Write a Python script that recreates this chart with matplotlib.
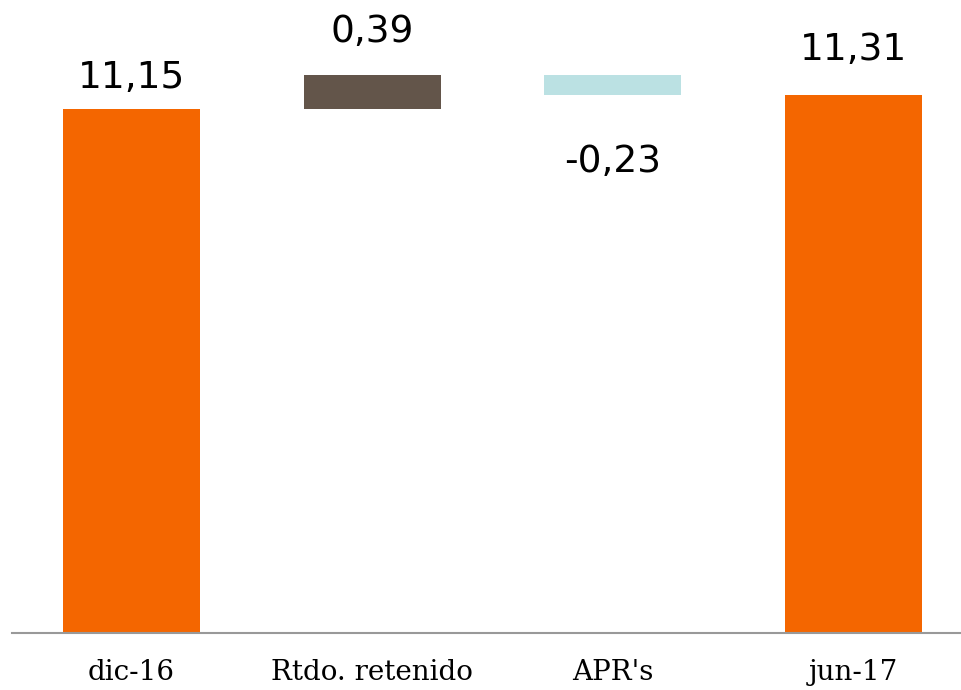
import matplotlib.pyplot as plt

# Datos del gráfico (cascada)
categorias = ["dic-16", "Rtdo. retenido", "APR's", "jun-17"]
variaciones = [11.15, 0.39, -0.23, 11.31]
es_total = [True, False, False, True]
etiquetas = ["11,15", "0,39", "-0,23", "11,31"]

colores = ["#F46600", "#63554A", "#BBE1E3", "#F46600"]
desplaz = [9, 17.5, -35.5, 19]  # separación de la etiqueta (pt)

fig = plt.figure(figsize=(9.62, 6.90), dpi=100)
ax = fig.add_axes([12 / 962, 57 / 690, 950 / 962, 633 / 690])

ymin = 5.16
acumulado = 0.0
for i, (v, total) in enumerate(zip(variaciones, es_total)):
    if total:
        base = ymin
        altura = v - ymin
        acumulado = v
    else:
        if v >= 0:
            base = acumulado
            altura = v
        else:
            base = acumulado + v
            altura = -v
        acumulado += v
    ax.bar(i, altura, bottom=base, width=0.57, color=colores[i], linewidth=0)
    if v >= 0 or total:
        ax.annotate(etiquetas[i], (i, base + altura), xytext=(0, desplaz[i]),
                    textcoords="offset points", ha="center", va="bottom",
                    fontsize=27, family="DejaVu Sans", color="black")
    else:
        ax.annotate(etiquetas[i], (i, base), xytext=(0, desplaz[i]),
                    textcoords="offset points", ha="center", va="top",
                    fontsize=27, family="DejaVu Sans", color="black")

ax.set_xlim(-0.4965, 3.451)
ax.set_ylim(ymin, 12.394)
ax.set_xticks(range(len(categorias)))
ax.set_xticklabels(categorias, fontsize=20, family="DejaVu Serif")
ax.tick_params(axis="x", length=0, pad=18.5)
ax.set_yticks([])
for s in ["top", "right", "left"]:
    ax.spines[s].set_visible(False)
ax.spines["bottom"].set_color("#999999")
ax.spines["bottom"].set_linewidth(1.5)

plt.savefig("out.png", dpi=100)
